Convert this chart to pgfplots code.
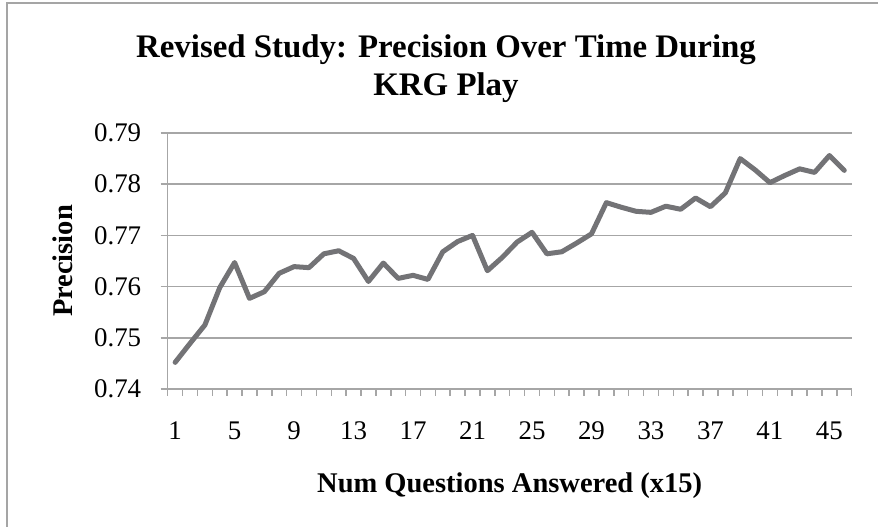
\documentclass[border=0pt]{standalone}
\usepackage{pgfplots}
\pgfplotsset{compat=1.18}
\usepackage{fontspec}
\setmainfont{Liberation Serif}
\definecolor{serieline}{RGB}{115,115,118}
\definecolor{gridgray}{RGB}{166,166,166}
\definecolor{framegray}{RGB}{165,165,165}

\begin{document}
\begin{tikzpicture}[x=1bp,y=1bp]
\useasboundingbox (0,0) rectangle (878,527);
% chart frame (only top and left edges are visible)
\draw[framegray, line width=2bp] (7,0) -- (7,524) -- (878,524);
% title
\node[anchor=base, font=\fontsize{33}{40}\selectfont\bfseries] at (446,469) {Revised Study: Precision Over Time During};
\node[anchor=base, font=\fontsize{33}{40}\selectfont\bfseries] at (446,431) {KRG Play};
\begin{axis}[
  at={(167.7bp,138bp)}, anchor=south west,
  scale only axis, width=684bp, height=256bp,
  xmin=0.5, xmax=46.5, ymin=0.74, ymax=0.79,
  axis x line*=bottom, axis y line*=left,
  axis line style={gridgray, line width=1.5bp},
  xtick={1,5,...,45},
  minor xtick={0.5,1.5,...,46.5},
  ytick={0.74,0.75,...,0.79},
  tick align=outside,
  major tick length=7bp, minor tick length=7bp,
  major x tick style={draw=none},
  every tick/.style={gridgray, line width=1.5bp},
  ymajorgrids,
  major grid style={gridgray, line width=1.5bp},
  yticklabel style={/pgf/number format/fixed, /pgf/number format/fixed zerofill, /pgf/number format/precision=2, /pgf/number format/assume math mode=true, anchor=east, xshift=-16bp},
  xticklabel style={/pgf/number format/assume math mode=true, anchor=base, yshift=-44bp},
  ticklabel style={font=\fontsize{27}{30}\selectfont, text=black},
  xlabel={Num Questions Answered (x15)},
  ylabel={Precision},
  label style={font=\fontsize{28.6}{32}\selectfont\bfseries},
  xlabel style={at={(axis description cs:0.5,-0.40625)}, anchor=base},
  ylabel style={at={(axis description cs:-0.1385,0.5)}, anchor=base},
]
\addplot[serieline, line width=5bp, line join=round, line cap=round] coordinates {
  (1,0.7452) (2,0.7489) (3,0.7525) (4,0.7598) (5,0.7647) (6,0.7577)
  (7,0.7590) (8,0.7626) (9,0.7639) (10,0.7637) (11,0.7664) (12,0.7670)
  (13,0.7655) (14,0.7610) (15,0.7646) (16,0.7616) (17,0.7622) (18,0.7614)
  (19,0.7668) (20,0.7688) (21,0.7700) (22,0.7631) (23,0.7657) (24,0.7687)
  (25,0.7706) (26,0.7664) (27,0.7668) (28,0.7685) (29,0.7703) (30,0.7764)
  (31,0.7755) (32,0.7747) (33,0.7745) (34,0.7757) (35,0.7751) (36,0.7773)
  (37,0.7756) (38,0.7783) (39,0.7850) (40,0.7828) (41,0.7803) (42,0.7817)
  (43,0.7830) (44,0.7823) (45,0.7856) (46,0.7827)
};
\end{axis}
\end{tikzpicture}
\end{document}
